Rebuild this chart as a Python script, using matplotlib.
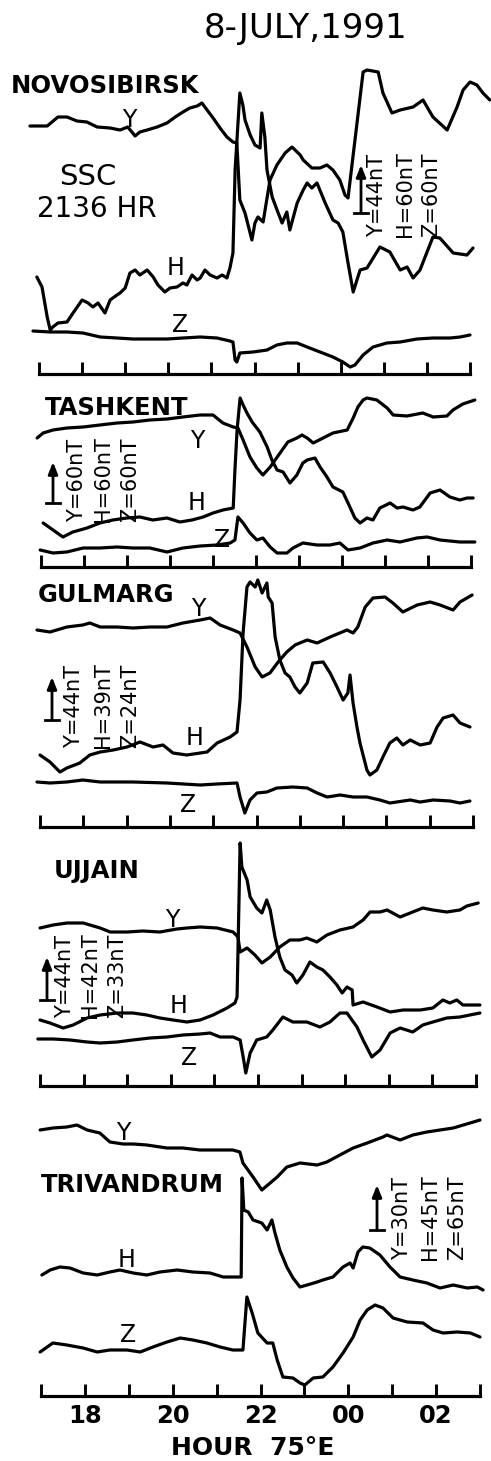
import matplotlib.pyplot as plt
from matplotlib.lines import Line2D

plt.rcParams['font.family'] = ['DejaVu Sans']

# Magnetogram traces: (hour 75E, deflection above time axis)
NOV_Y = [(16.79, 248), (17.19, 248), (17.44, 257), (17.65, 257), (17.88, 253), (18.11, 252),
         (18.35, 247), (18.65, 246), (18.88, 244), (19.06, 247), (19.23, 238), (19.34, 242),
         (19.51, 244), (19.74, 247), (19.97, 251), (20.16, 257), (20.34, 262), (20.50, 266),
         (20.67, 268), (20.78, 271), (20.90, 264), (21.04, 256), (21.20, 246), (21.36, 237),
         (21.50, 232), (21.59, 231), (21.66, 174), (21.78, 161), (21.94, 134), (22.01, 151),
         (22.08, 157), (22.20, 152), (22.31, 181), (22.36, 194), (22.52, 209), (22.71, 221),
         (22.87, 227), (23.06, 219), (23.13, 214), (23.33, 206), (23.52, 206), (23.68, 209),
         (23.82, 204), (23.98, 194), (24.10, 179), (24.17, 176), (24.52, 302), (24.61, 304),
         (24.87, 302), (24.98, 281), (25.19, 261), (25.38, 264), (25.68, 267), (25.91, 274),
         (26.14, 257), (26.47, 244), (26.70, 267), (26.84, 284), (27.00, 292), (27.16, 289),
         (27.30, 281), (27.46, 274)]
NOV_H = [(16.95, 97), (17.07, 87), (17.19, 57), (17.26, 44), (17.32, 47), (17.44, 51),
         (17.65, 52), (17.79, 61), (18.00, 74), (18.14, 71), (18.25, 67), (18.37, 71),
         (18.53, 61), (18.65, 74), (18.81, 79), (18.88, 81), (19.00, 86), (19.11, 101),
         (19.23, 104), (19.34, 99), (19.51, 104), (19.65, 97), (19.76, 89), (19.92, 82),
         (20.04, 86), (20.20, 87), (20.34, 91), (20.43, 89), (20.55, 99), (20.67, 94),
         (20.74, 96), (20.85, 104), (20.97, 99), (21.13, 96), (21.25, 99), (21.36, 96),
         (21.43, 106), (21.50, 121), (21.55, 204), (21.66, 281), (21.73, 269), (21.78, 254),
         (21.90, 239), (22.01, 229), (22.13, 226), (22.17, 261), (22.24, 237), (22.29, 204),
         (22.41, 177), (22.55, 161), (22.64, 151), (22.75, 162), (22.82, 144), (22.99, 171),
         (23.13, 184), (23.22, 191), (23.33, 186), (23.45, 191), (23.64, 171), (23.82, 154),
         (23.94, 151), (24.05, 142), (24.17, 111), (24.29, 82), (24.45, 104), (24.61, 106),
         (24.91, 127), (25.14, 122), (25.38, 104), (25.54, 107), (25.68, 96), (25.84, 104),
         (26.14, 137), (26.30, 136), (26.61, 121), (26.93, 119), (27.07, 126)]
NOV_Z = [(16.86, 43), (17.26, 42), (17.65, 42), (18.02, 41), (18.42, 37), (18.81, 36),
         (19.18, 35), (19.58, 35), (19.97, 35), (20.34, 36), (20.74, 37), (21.13, 36),
         (21.43, 33), (21.50, 32), (21.55, 14), (21.59, 12), (21.66, 21), (21.97, 22),
         (22.29, 24), (22.52, 29), (22.75, 31), (22.99, 31), (23.22, 27), (23.52, 22),
         (23.82, 17), (24.05, 12), (24.22, 7), (24.33, 9), (24.52, 19), (24.75, 27),
         (25.07, 31), (25.38, 32), (25.77, 35), (26.14, 36), (26.54, 36), (26.77, 37),
         (27.00, 39)]

TAS_Y = [(16.91, 129), (17.05, 134), (17.28, 137), (17.60, 139), (17.98, 140), (18.37, 142),
         (18.77, 144), (19.14, 145), (19.53, 147), (19.93, 148), (20.30, 150), (20.70, 152),
         (21.00, 152), (21.23, 144), (21.47, 140), (21.58, 139), (21.70, 127), (21.86, 110),
         (22.02, 99), (22.16, 92), (22.33, 100), (22.56, 114), (22.74, 125), (22.95, 129),
         (23.07, 132), (23.19, 129), (23.33, 124), (23.56, 129), (23.79, 134), (24.12, 137),
         (24.26, 149), (24.37, 160), (24.49, 167), (24.58, 169), (24.81, 167), (25.05, 159),
         (25.19, 152), (25.51, 151), (25.88, 154), (26.12, 150), (26.44, 151), (26.58, 157),
         (26.81, 163), (27.09, 167)]
TAS_H = [(17.05, 44), (17.28, 37), (17.51, 30), (17.74, 35), (18.07, 39), (18.37, 44),
         (18.67, 47), (19.00, 49), (19.30, 50), (19.60, 47), (19.93, 49), (20.23, 45),
         (20.51, 47), (20.77, 50), (21.00, 54), (21.23, 57), (21.47, 59), (21.51, 97),
         (21.56, 137), (21.63, 169), (21.70, 162), (21.79, 154), (21.91, 145), (22.09, 135),
         (22.26, 120), (22.37, 107), (22.49, 97), (22.63, 95), (22.79, 84), (22.95, 92),
         (23.09, 104), (23.19, 107), (23.37, 109), (23.49, 100), (23.65, 90), (23.79, 80),
         (24.02, 75), (24.14, 64), (24.30, 49), (24.42, 44), (24.58, 49), (24.72, 47),
         (24.88, 59), (25.12, 64), (25.28, 59), (25.42, 60), (25.65, 57), (25.81, 60),
         (26.05, 74), (26.28, 77), (26.51, 70), (26.74, 67), (26.91, 69), (27.05, 69)]
TAS_Z = [(16.98, 17), (17.28, 14), (17.60, 15), (17.98, 19), (18.37, 19), (18.77, 20),
         (19.14, 19), (19.53, 19), (19.93, 15), (20.30, 19), (20.70, 21), (21.09, 22),
         (21.40, 24), (21.51, 27), (21.58, 50), (21.70, 44), (21.86, 34), (22.02, 27),
         (22.16, 29), (22.33, 20), (22.49, 14), (22.72, 14), (22.86, 19), (23.09, 24),
         (23.42, 22), (23.72, 22), (23.95, 24), (24.14, 17), (24.42, 19), (24.72, 24),
         (25.05, 27), (25.35, 25), (25.74, 29), (25.98, 30), (26.28, 27), (26.74, 25),
         (27.09, 25)]

GUL_Y = [(16.93, 197), (17.23, 195), (17.62, 200), (17.99, 202), (18.15, 204), (18.39, 200),
         (18.78, 200), (19.15, 199), (19.54, 200), (19.93, 200), (20.30, 204), (20.70, 207),
         (20.93, 209), (21.16, 202), (21.46, 197), (21.62, 194), (21.78, 180), (21.97, 160),
         (22.13, 150), (22.31, 154), (22.50, 165), (22.70, 175), (22.89, 182), (23.17, 187),
         (23.40, 184), (23.70, 190), (24.09, 197), (24.23, 194), (24.34, 200), (24.51, 220),
         (24.69, 229), (24.97, 230), (25.15, 224), (25.38, 215), (25.71, 222), (26.01, 225),
         (26.24, 222), (26.54, 217), (26.70, 225), (26.98, 232)]
GUL_H = [(17.00, 72), (17.23, 65), (17.46, 55), (17.62, 59), (17.92, 64), (18.15, 72),
         (18.39, 75), (18.69, 77), (19.01, 80), (19.31, 85), (19.61, 80), (19.84, 82),
         (20.07, 74), (20.39, 72), (20.70, 74), (20.86, 75), (21.09, 84), (21.39, 90),
         (21.55, 95), (21.62, 127), (21.69, 194), (21.78, 240), (21.85, 245), (21.97, 240),
         (22.03, 247), (22.13, 234), (22.24, 244), (22.27, 230), (22.36, 224), (22.43, 190),
         (22.54, 167), (22.66, 154), (22.77, 150), (22.89, 140), (23.00, 134), (23.17, 144),
         (23.30, 164), (23.54, 165), (23.70, 154), (23.86, 140), (24.00, 127), (24.11, 134),
         (24.16, 152), (24.23, 124), (24.32, 100), (24.39, 84), (24.55, 57), (24.62, 52),
         (24.78, 57), (24.92, 70), (25.08, 84), (25.24, 89), (25.38, 82), (25.55, 87),
         (25.78, 82), (26.01, 84), (26.17, 100), (26.31, 109), (26.54, 112), (26.70, 104),
         (26.93, 100)]
GUL_Z = [(16.93, 45), (17.23, 44), (17.62, 45), (17.99, 47), (18.39, 45), (19.15, 45),
         (19.93, 44), (20.70, 42), (21.09, 43), (21.55, 44), (21.62, 30), (21.73, 14),
         (21.85, 27), (22.01, 34), (22.24, 35), (22.47, 39), (22.84, 40), (23.17, 39),
         (23.40, 34), (23.63, 30), (23.93, 32), (24.23, 30), (24.55, 30), (24.85, 27),
         (25.08, 24), (25.55, 27), (25.78, 25), (26.08, 27), (26.47, 26), (26.70, 24),
         (26.93, 26)]

UJJ_Y = [(17.00, 158), (17.30, 161), (17.62, 163), (17.99, 163), (18.38, 158), (18.61, 154),
         (19.00, 154), (19.36, 155), (19.75, 154), (20.14, 157), (20.37, 158), (20.67, 159),
         (21.06, 158), (21.43, 154), (21.54, 149), (21.59, 134), (21.75, 138), (21.93, 131),
         (22.09, 123), (22.28, 129), (22.50, 139), (22.73, 146), (22.96, 146), (23.12, 148),
         (23.35, 144), (23.58, 151), (23.88, 156), (24.18, 159), (24.41, 166), (24.57, 174),
         (24.80, 174), (24.96, 176), (25.26, 169), (25.49, 173), (25.78, 178), (26.01, 176),
         (26.33, 174), (26.63, 176), (26.79, 180), (27.05, 183)]
UJJ_H = [(17.00, 66), (17.23, 63), (17.53, 58), (17.76, 61), (18.08, 68), (18.38, 71),
         (18.77, 73), (19.13, 73), (19.45, 71), (19.75, 68), (20.05, 66), (20.37, 64),
         (20.67, 66), (20.97, 71), (21.29, 78), (21.47, 83), (21.52, 89), (21.59, 243),
         (21.63, 219), (21.75, 206), (21.82, 189), (21.97, 178), (22.09, 173), (22.20, 186),
         (22.28, 176), (22.39, 149), (22.50, 129), (22.62, 116), (22.78, 111), (22.89, 103),
         (23.03, 111), (23.19, 124), (23.35, 119), (23.49, 116), (23.65, 109), (23.81, 101),
         (23.93, 93), (24.04, 99), (24.16, 96), (24.18, 81), (24.41, 84), (24.73, 79),
         (25.03, 74), (25.33, 76), (25.72, 76), (26.01, 78), (26.24, 86), (26.40, 83),
         (26.56, 86), (26.70, 81), (26.93, 81), (27.09, 81)]
UJJ_Z = [(16.95, 47), (17.30, 47), (17.69, 46), (18.08, 44), (18.38, 43), (18.77, 44),
         (19.13, 46), (19.52, 48), (19.91, 49), (20.28, 51), (20.67, 52), (20.90, 53),
         (21.13, 49), (21.43, 49), (21.59, 46), (21.66, 29), (21.72, 13), (21.82, 33),
         (21.97, 46), (22.20, 49), (22.34, 56), (22.57, 69), (22.80, 64), (23.12, 64),
         (23.42, 59), (23.65, 64), (23.88, 73), (24.04, 73), (24.27, 59), (24.41, 46),
         (24.61, 29), (24.80, 36), (25.03, 53), (25.26, 58), (25.55, 54), (25.78, 61),
         (26.01, 64), (26.33, 68), (26.63, 69), (27.09, 73)]

TRI_Y = [(16.98, 266), (17.27, 268), (17.59, 269), (17.82, 271), (18.05, 266), (18.34, 263),
         (18.57, 254), (18.87, 252), (19.10, 252), (19.41, 251), (19.87, 248), (20.23, 248),
         (20.62, 246), (21.01, 246), (21.37, 246), (21.53, 244), (21.60, 233), (21.83, 219),
         (22.03, 206), (22.22, 213), (22.38, 219), (22.60, 229), (22.90, 233), (23.29, 231),
         (23.51, 234), (23.81, 241), (24.11, 248), (24.43, 253), (24.79, 259), (24.88, 261),
         (25.18, 256), (25.47, 261), (25.79, 264), (26.09, 266), (26.39, 268), (26.62, 271),
         (26.85, 274), (27.00, 276)]
TRI_H = [(17.02, 121), (17.21, 126), (17.43, 129), (17.66, 128), (17.96, 123), (18.28, 121),
         (18.57, 124), (18.80, 126), (19.10, 123), (19.41, 121), (19.71, 124), (20.10, 126),
         (20.46, 124), (20.85, 123), (21.15, 119), (21.46, 119), (21.56, 119), (21.58, 218),
         (21.62, 186), (21.72, 184), (21.83, 176), (22.03, 173), (22.15, 166), (22.26, 176),
         (22.33, 163), (22.44, 146), (22.60, 129), (22.74, 118), (22.90, 109), (23.06, 111),
         (23.29, 114), (23.42, 116), (23.65, 119), (23.88, 129), (24.04, 133), (24.11, 128),
         (24.22, 144), (24.33, 149), (24.49, 148), (24.72, 141), (24.95, 129), (25.18, 119),
         (25.47, 116), (25.79, 113), (26.09, 108), (26.39, 111), (26.71, 108), (26.94, 109),
         (27.07, 106)]
TRI_Z = [(16.98, 44), (17.27, 53), (17.59, 51), (17.96, 48), (18.28, 44), (18.57, 46),
         (18.96, 46), (19.26, 44), (19.55, 49), (19.87, 54), (20.17, 58), (20.46, 56),
         (20.78, 53), (21.08, 49), (21.37, 46), (21.60, 46), (21.69, 99), (21.81, 83),
         (21.94, 63), (22.15, 53), (22.28, 53), (22.38, 36), (22.51, 19), (22.74, 18),
         (22.90, 13), (23.01, 11), (23.20, 18), (23.42, 19), (23.65, 29), (23.88, 43),
         (24.11, 59), (24.27, 76), (24.43, 86), (24.61, 91), (24.79, 88), (25.02, 78),
         (25.34, 74), (25.70, 73), (25.93, 66), (26.16, 63), (26.48, 64), (26.78, 63),
         (27.00, 59)]

STATIONS = ['NOVOSIBIRSK', 'TASHKENT', 'GULMARG', 'UJJAIN', 'TRIVANDRUM']
TRACES = [(NOV_Y, NOV_H, NOV_Z), (TAS_Y, TAS_H, TAS_Z), (GUL_Y, GUL_H, GUL_Z),
          (UJJ_Y, UJJ_H, UJJ_Z), (TRI_Y, TRI_H, TRI_Z)]
SCALES = [['Y=44nT', 'H=60nT', 'Z=60nT'],
          ['Y=60nT', 'H=60nT', 'Z=60nT'],
          ['Y=44nT', 'H=39nT', 'Z=24nT'],
          ['Y=44nT', 'H=42nT', 'Z=33nT'],
          ['Y=30nT', 'H=45nT', 'Z=65nT']]
HOURS = list(range(17, 28))
HOUR_LABELS = ['', '18', '', '20', '', '22', '', '00', '', '02', '']

W, H = 491, 1461


def fx(x):
    return x / W


def fy(y):
    return 1 - y / H


fig = plt.figure(figsize=(W / 100, H / 100), dpi=100)

# panel frames in pixels: x at 17h, x at 03h, y of time axis, y of top
FRAMES = [(39, 470, 374, 60), (41, 471, 567, 390), (40, 473, 827, 575),
          (40, 476, 1086, 840), (41, 480, 1396, 1100)]
# station name (x centre, baseline), component labels (x, baseline) for Y, H, Z
NAME_POS = [(105, 93), (117, 415), (106, 602), (97, 878), (132, 1192)]
COMP_POS = [[(129, 127), (176, 275), (180, 332)],
            [(197, 448), (197, 510), (222, 547)],
            [(198, 616), (195, 745), (188, 812)],
            [(172, 927), (179, 1013), (189, 1065)],
            [(123, 1140), (127, 1267), (128, 1342)]]
# scale arrow (x, top, bottom), text column centres, text bottom
ARROWS = [(361, 165, 213), (53, 462, 503), (52, 677, 720), (47, 957, 1000), (377, 1185, 1230)]
SCALE_TEXT_X = [(377, 405, 431), (77, 103, 130), (74, 103, 130), (65, 90, 117), (402, 430, 457)]
SCALE_TEXT_BOTTOM = [237, 522, 748, 1018, 1260]

below = 25
for i, (left, right, base, top) in enumerate(FRAMES):
    pph = (right - left) / 10.0
    x0 = left - 0.8 * pph
    x1 = right + 0.8 * pph
    ax = fig.add_axes([fx(x0), fy(base + below), (x1 - x0) / W, (base + below - top) / H])
    ax.set_xlim(16.2, 27.8)
    ax.set_ylim(-below, base - top)
    ax.patch.set_visible(False)
    for s in ['top', 'right', 'left']:
        ax.spines[s].set_visible(False)
    ax.spines['bottom'].set_position(('data', 0))
    ax.spines['bottom'].set_bounds(17, 27)
    ax.spines['bottom'].set_linewidth(2.3)
    ax.set_yticks([])
    ax.set_xticks(HOURS)
    ax.tick_params(axis='x', direction='in', length=8.5, width=2.1, pad=6,
                   labelsize=17.5)
    if i == len(FRAMES) - 1:
        ax.set_xticklabels(HOUR_LABELS, fontweight='bold')
    else:
        ax.set_xticklabels([])

    for trace in TRACES[i]:
        hrs, vals = zip(*trace)
        ax.plot(hrs, vals, color='black', lw=2.3, solid_joinstyle='round',
                solid_capstyle='round', clip_on=False)

    # station name and component labels
    nx, ny = NAME_POS[i]
    fig.text(fx(nx), fy(ny), STATIONS[i], fontsize=17.5, fontweight='bold',
             ha='center', va='baseline')
    for comp, (cx, cy) in zip(['Y', 'H', 'Z'], COMP_POS[i]):
        fig.text(fx(cx), fy(cy), comp, fontsize=17, ha='center', va='baseline')

    # scale arrow with tick at its foot
    axx, atop, abot = ARROWS[i]
    fig.add_artist(plt.Annotation('', xy=(fx(axx), fy(atop)), xytext=(fx(axx), fy(abot)),
                                  xycoords='figure fraction', textcoords='figure fraction',
                                  arrowprops=dict(arrowstyle='-|>,head_length=0.7,head_width=0.28',
                                                  lw=2.0, color='black', shrinkA=0, shrinkB=0)))
    fig.add_artist(Line2D([fx(axx - 7), fx(axx + 7)], [fy(abot), fy(abot)],
                          transform=fig.transFigure, color='black', lw=2.0))
    for s, tx in zip(SCALES[i], SCALE_TEXT_X[i]):
        fig.text(fx(tx), fy(SCALE_TEXT_BOTTOM[i]), s, fontsize=15, rotation=90,
                 ha='center', va='bottom')

fig.text(fx(306), fy(38), '8-JULY,1991', fontsize=24.5, ha='center', va='baseline')
fig.text(fx(88), fy(185), 'SSC', fontsize=21, ha='center', va='baseline')
fig.text(fx(97), fy(217), '2136 HR', fontsize=20, ha='center', va='baseline')
fig.text(fx(253), fy(1455), 'HOUR  75°E', fontsize=18, fontweight='bold',
         ha='center', va='baseline')

fig.savefig('out.png', dpi=100)
